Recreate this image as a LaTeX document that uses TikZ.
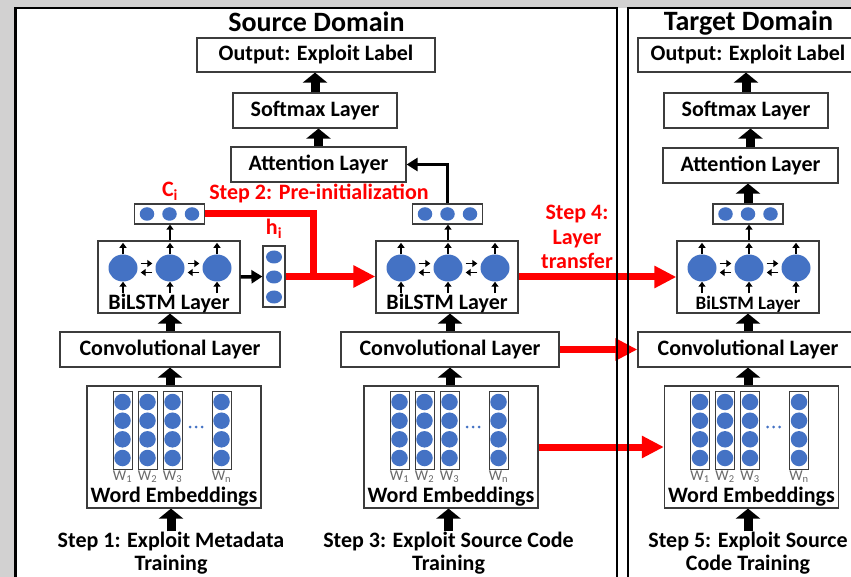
\documentclass[tikz,border=0pt]{standalone}
\usepackage{fontspec}
\setmainfont{Carlito}
\usetikzlibrary{arrows.meta,calc,shapes.geometric}

\definecolor{pagegray}{RGB}{210,209,209}
\definecolor{edge}{RGB}{60,60,60}
\definecolor{dot}{RGB}{68,114,196}
\definecolor{subgray}{RGB}{105,105,105}
\definecolor{stepred}{RGB}{255,0,0}

\newcommand\lblfont{\fontsize{22}{26}\selectfont\bfseries}
\newcommand\titlefont{\fontsize{28}{32}\selectfont\bfseries}
\newcommand\stepfont{\fontsize{22}{23.5}\selectfont\bfseries}

% BiLSTM block: #1 name, #2 centre x, #3 caption font
\newcommand\lstmblock[3]{%
  \node[lstmbox] (#1) at (#2,277) {};
  \foreach \dx/\ki in {-46/1,1/2,48/3}{%
    \node[bigdot] (#1c\ki) at (#2+\dx,268) {};
    \draw[tinyarrow] (#1c\ki.north) -- ++(0,-11.5);
    \draw[tinyarrow] ($(#1c\ki.south)+(0,11.5)$) -- (#1c\ki.south);
  }
  \foreach \ai/\bi in {1/2,2/3}{%
    \draw[tinyarrow] ($(#1c\ai.east)+(3,-4.5)$) -- ($(#1c\bi.west)+(-3,-4.5)$);
    \draw[tinyarrow] ($(#1c\bi.west)+(-3,4.5)$) -- ($(#1c\ai.east)+(3,4.5)$);
  }
  \node[anchor=base,inner sep=0pt,font=#3] (#1t) at (#2,309.5) {BiLSTM Layer};
}

% small hidden-state vector: #1 name, #2 centre x
\newcommand\vecblock[2]{%
  \node[vecbox] (#1) at (#2,214) {};
  \foreach \dx/\ki in {-22.5/1,0/2,22.5/3}
    \node[smalldot] (#1d\ki) at (#2+\dx,214) {};
}

% word embedding block: #1 name, #2 centre x
\newcommand\embblock[2]{%
  \node[embbox] (#1) at (#2,447) {};
  \foreach \dx/\si [count=\ki] in {-51.5/1,-26.5/2,-1.5/3,47.5/n}{%
    \node[wcol] (#1col\ki) at (#2+\dx,430) {};
    \foreach \yy [count=\ri] in {402,420.7,439.3,458}
      \node[embdot] (#1e\ki\ri) at (#2+\dx,\yy) {};
    \node[wlab] (#1w\ki) at (#2+\dx,480) {W\textsubscript{\si}};
  }
  \foreach \dx in {16,22,28} \fill[dot] (#2+\dx,427) circle[radius=1.5pt];
  \node[anchor=base,inner sep=0pt,font=\lblfont] (#1t) at (#2,502) {Word Embeddings};
}

\begin{document}
\begin{tikzpicture}[x=1pt,y=-1pt,
  box/.style={draw=edge,line width=1.2pt,fill=white,inner sep=0pt,font=\lblfont},
  lstmbox/.style={draw=edge,line width=1.2pt,fill=white,minimum width=142pt,minimum height=72pt,inner sep=0pt},
  vecbox/.style={draw=edge,line width=1.2pt,fill=white,minimum width=70pt,minimum height=20pt,inner sep=0pt},
  bigdot/.style={ellipse,fill=dot,minimum width=29pt,minimum height=27pt,inner sep=0pt},
  smalldot/.style={ellipse,fill=dot,minimum width=14.5pt,minimum height=13.5pt,inner sep=0pt},
  hdot/.style={ellipse,fill=dot,minimum width=16pt,minimum height=13pt,inner sep=0pt},
  embdot/.style={circle,fill=dot,minimum size=16.5pt,inner sep=0pt},
  wcol/.style={draw=edge,line width=1pt,minimum width=19pt,minimum height=78pt,inner sep=0pt},
  embbox/.style={draw=edge,line width=1.2pt,fill=white,minimum width=174pt,minimum height=122pt,inner sep=0pt},
  wlab/.style={anchor=base,inner sep=0pt,font=\fontsize{15}{16}\selectfont,text=subgray},
  steplbl/.style={align=center,inner sep=0pt,font=\stepfont},
  redlbl/.style={inner sep=0pt,text=stepred,font=\fontsize{22}{24.5}\selectfont\bfseries},
  fatarrow/.style={line width=9pt,-{Triangle[width=24pt,length=10pt]}},
  midarrow/.style={line width=3.5pt,-{Triangle[width=13pt,length=11pt]}},
  tinyarrow/.style={line width=1.8pt,-{Triangle[width=7pt,length=5pt]}},
  redarrow/.style={draw=stepred,line width=7pt,-{Triangle[width=21pt,length=22pt]}},
  redline/.style={draw=stepred,line width=7pt,line join=miter},
  domainframe/.style={draw=black,line width=2.6pt}]

\useasboundingbox (0,0) rectangle (851,577);
\fill[pagegray] (0,0) rectangle (851,577);
\fill[white] (15,8) rectangle (851,577);

% domain titles
\node[anchor=base,font=\titlefont,inner sep=0pt] (srcTitle) at (316.5,32) {Source Domain};
\node[anchor=base,font=\titlefont,inner sep=0pt] (tgtTitle) at (748.5,31) {Target Domain};

% output stacks
\node[box,minimum width=238pt,minimum height=34pt] (outS) at (316,55) {Output: Exploit Label};
\node[box,minimum width=164pt,minimum height=35pt] (smS) at (315,110.5) {Softmax Layer};
\node[box,minimum width=175pt,minimum height=35pt] (attS) at (318.5,164.5) {Attention Layer};
\node[box,minimum width=220pt,minimum height=34pt] (outT) at (748,55) {Output: Exploit Label};
\node[box,minimum width=164pt,minimum height=35pt] (smT) at (746,110.5) {Softmax Layer};
\node[box,minimum width=175pt,minimum height=35pt] (attT) at (750.5,165.5) {Attention Layer};

% hidden-state vectors
\vecblock{ciL}{169.5}
\vecblock{ciM}{447.5}
\vecblock{ciT}{748}

% BiLSTM layers
\lstmblock{bilL}{169}{\lblfont}
\lstmblock{bilM}{447}{\lblfont}
\lstmblock{bilT}{748}{\fontsize{19}{22}\selectfont\bfseries}

% h vector
\node[draw=edge,line width=1.2pt,fill=white,minimum width=22pt,minimum height=61pt,inner sep=0pt] (hvec) at (274,276.5) {};
\foreach \yy/\ki in {257/1,277/2,297/3}
  \node[hdot] (hvecd\ki) at (274,\yy) {};

% convolutional layers
\node[box,minimum width=220pt,minimum height=35pt] (convL) at (170,349.5) {Convolutional Layer};
\node[box,minimum width=218pt,minimum height=35pt] (convM) at (450,349.5) {Convolutional Layer};
\node[box,minimum width=220pt,minimum height=35pt] (convT) at (748,349.5) {Convolutional Layer};

% word embeddings
\embblock{weL}{174}
\embblock{weM}{451}
\embblock{weT}{751.5}

% training steps
\node[steplbl] (stepA) at (171,553) {Step 1: Exploit Metadata\\Training};
\node[steplbl] (stepB) at (448.5,553) {Step 3: Exploit Source Code\\Training};
\node[steplbl] (stepC) at (748,553) {Step 5: Exploit Source\\Code Training};

% red annotations
\node[redlbl,anchor=base] (lblStep2) at (319,200) {Step 2: Pre-initialization};
\node[redlbl,anchor=base] (lblC) at (170,197) {C\textsubscript{i}};
\node[redlbl,anchor=base] (lblH) at (274,235) {h\textsubscript{i}};
\node[redlbl,align=center] (lblStep4) at (577,237) {Step 4:\\Layer\\transfer};

% upward flow
\draw[fatarrow] (smS.north) -- (smS.north |- outS.south);
\draw[fatarrow] (attS.north) -- (attS.north |- smS.south);
\draw[midarrow] (ciM.north) |- (attS.east);
\draw[fatarrow] (smT.north) -- (smT.north |- outT.south);
\draw[fatarrow] (attT.north) -- (attT.north |- smT.south);
\draw[fatarrow] (ciT.north) -- (ciT.north |- attT.south);
\foreach \bv/\cv in {bilL/ciL,bilM/ciM,bilT/ciT}
  \draw[tinyarrow] (\bv c2 |- \bv.north) -- (\bv c2 |- \cv.south);
\foreach \cv/\wv/\sv/\bv in {convL/weL/stepA/bilL,convM/weM/stepB/bilM,convT/weT/stepC/bilT}{
  \draw[fatarrow] (\cv.north) -- (\cv.north |- \bv.south);
  \draw[fatarrow] (\cv.south |- \wv.north) -- (\cv.south);
  \draw[fatarrow] (\sv.north) -- (\sv.north |- \wv.south);
}
\draw[midarrow] (bilL.east) -- (hvec.west);

% pre-initialisation and layer transfer
\coordinate (bend) at (313,276.5);
\draw[redline] (ciL.east) -| (bend);
\draw[redarrow] (hvec.east) -- (hvec.east -| bilM.west);
\draw[redarrow] (bilM.east) -- (bilT.west);
\draw[redarrow] (convM.east) -- (convT.west);
\draw[redarrow] (weM.east) -- (weT.west);

% domain frames
\draw[domainframe] (15.5,8) rectangle (617,600);
\draw[domainframe] (628,8) rectangle (900,600);
\end{tikzpicture}
\end{document}
